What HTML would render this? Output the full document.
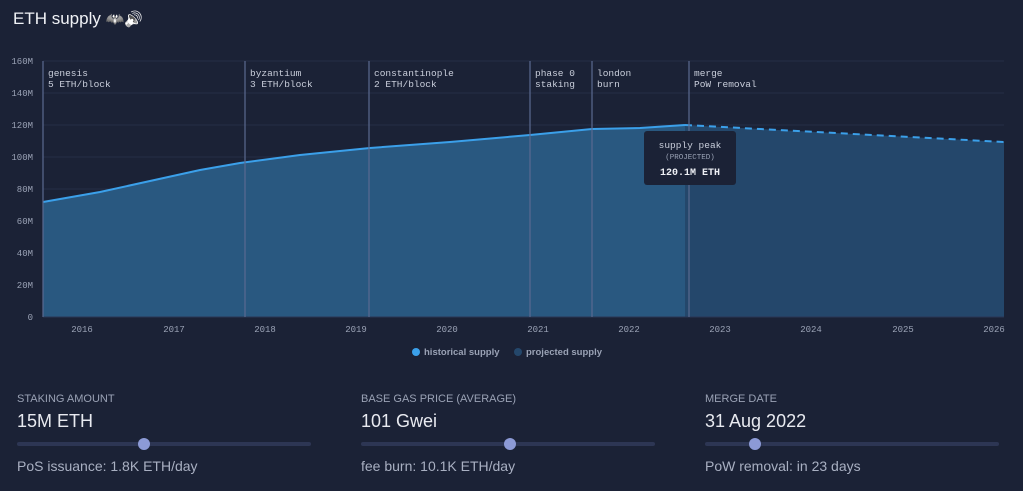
<!DOCTYPE html>
<html><head><style>
body{margin:0;width:1023px;height:491px;background:#1b2236;font-family:"Liberation Sans",sans-serif;color:#e6e8ee;overflow:hidden;position:relative}
.lab{position:absolute;font-size:11px;color:#9aa2b5}
.val{position:absolute;font-size:18px;color:#e8eaf0}
.sub{position:absolute;font-size:14px;color:#a9b0c2}
.track{position:absolute;height:4px;border-radius:2px;background:#2d3654}
.knob{position:absolute;width:12px;height:12px;border-radius:6px;background:#8c9ad6;top:-4px}
</style></head><body>
<div style="position:absolute;left:13px;top:9px;font-size:17px;color:#f0f2f6">ETH supply <span style="filter:grayscale(1) brightness(1.6);font-size:15px">🦇🔊</span></div>
<svg width="1023" height="360" style="position:absolute;left:0;top:0" font-family="Liberation Mono,monospace">
<g stroke="#252e47" stroke-width="1">
<line x1="43" x2="1004" y1="61" y2="61"/><line x1="43" x2="1004" y1="93" y2="93"/><line x1="43" x2="1004" y1="125" y2="125"/><line x1="43" x2="1004" y1="157" y2="157"/><line x1="43" x2="1004" y1="189" y2="189"/><line x1="43" x2="1004" y1="221" y2="221"/><line x1="43" x2="1004" y1="253" y2="253"/><line x1="43" x2="1004" y1="285" y2="285"/></g>
<g fill="#9aa2b5" font-size="9" text-anchor="end">
<text x="33" y="64">160M</text><text x="33" y="96">140M</text><text x="33" y="128">120M</text><text x="33" y="160">100M</text><text x="33" y="192">80M</text><text x="33" y="224">60M</text><text x="33" y="256">40M</text><text x="33" y="288">20M</text><text x="33" y="320">0</text></g>
<path d="M685,125 L1004,142 L1004,317 L685,317Z" fill="#24476b"/>
<path d="M43,202 L100,192 L150,181 L200,170 L240,163 L300,155 L370,148 L450,142 L530,135 L592,129 L640,128 L685,125 L685,317 L43,317Z" fill="#295880"/>
<path d="M43,202 L100,192 L150,181 L200,170 L240,163 L300,155 L370,148 L450,142 L530,135 L592,129 L640,128 L685,125" fill="none" stroke="#3ba0ea" stroke-width="2"/>
<path d="M685,125 L1004,142" fill="none" stroke="#3ba0ea" stroke-width="2" stroke-dasharray="7,5"/>
<line x1="43" x2="1004" y1="317" y2="317" stroke="#2a3654"/>
<g stroke="#5b6a90" stroke-width="1.2">
<line x1="43" x2="43" y1="61" y2="317"/><line x1="245" x2="245" y1="61" y2="317"/><line x1="369" x2="369" y1="61" y2="317"/><line x1="530" x2="530" y1="61" y2="317"/><line x1="592" x2="592" y1="61" y2="317"/><line x1="689" x2="689" y1="61" y2="317"/></g>
<g fill="#c9cedb" font-size="9.5">
<text x="48" y="76">genesis</text><text x="48" y="87">5 ETH/block</text>
<text x="250" y="76">byzantium</text><text x="250" y="87">3 ETH/block</text>
<text x="374" y="76">constantinople</text><text x="374" y="87">2 ETH/block</text>
<text x="535" y="76">phase 0</text><text x="535" y="87">staking</text>
<text x="597" y="76">london</text><text x="597" y="87">burn</text>
<text x="694" y="76">merge</text><text x="694" y="87">PoW removal</text></g>
<rect x="644" y="131" width="92" height="54" rx="3" fill="#1b2236"/>
<g text-anchor="middle" fill="#c9cedb"><text x="690" y="148" font-size="9.5">supply peak</text><text x="690" y="159" font-size="7.5" fill="#9aa2b5">(PROJECTED)</text><text x="690" y="175" font-size="10" font-weight="bold" fill="#eef0f5">120.1M ETH</text></g>
<g fill="#9aa2b5" font-size="9" text-anchor="middle">
<text x="82" y="332">2016</text><text x="174" y="332">2017</text><text x="265" y="332">2018</text><text x="356" y="332">2019</text><text x="447" y="332">2020</text><text x="538" y="332">2021</text><text x="629" y="332">2022</text><text x="720" y="332">2023</text><text x="811" y="332">2024</text><text x="903" y="332">2025</text><text x="994" y="332">2026</text></g>
<circle cx="416" cy="352" r="4" fill="#3ba0ea"/><text x="424" y="355" font-family="Liberation Sans,sans-serif" font-size="9.5" font-weight="bold" fill="#9aa2b5">historical supply</text>
<circle cx="518" cy="352" r="4" fill="#24476b"/><text x="526" y="355" font-family="Liberation Sans,sans-serif" font-size="9.5" font-weight="bold" fill="#9aa2b5">projected supply</text>
</svg>
<div class="lab" style="left:17px;top:393px">STAKING AMOUNT</div>
<div class="val" style="left:17px;top:411px">15M ETH</div>
<div class="track" style="left:17px;top:442px;width:294px"><div class="knob" style="left:121px"></div></div>
<div class="sub" style="left:17px;top:458px">PoS issuance: 1.8K ETH/day</div>
<div class="lab" style="left:361px;top:393px">BASE GAS PRICE (AVERAGE)</div>
<div class="val" style="left:361px;top:411px">101 Gwei</div>
<div class="track" style="left:361px;top:442px;width:294px"><div class="knob" style="left:143px"></div></div>
<div class="sub" style="left:361px;top:458px">fee burn: 10.1K ETH/day</div>
<div class="lab" style="left:705px;top:393px">MERGE DATE</div>
<div class="val" style="left:705px;top:411px">31 Aug 2022</div>
<div class="track" style="left:705px;top:442px;width:294px"><div class="knob" style="left:44px"></div></div>
<div class="sub" style="left:705px;top:458px">PoW removal: in 23 days</div>
</body></html>
